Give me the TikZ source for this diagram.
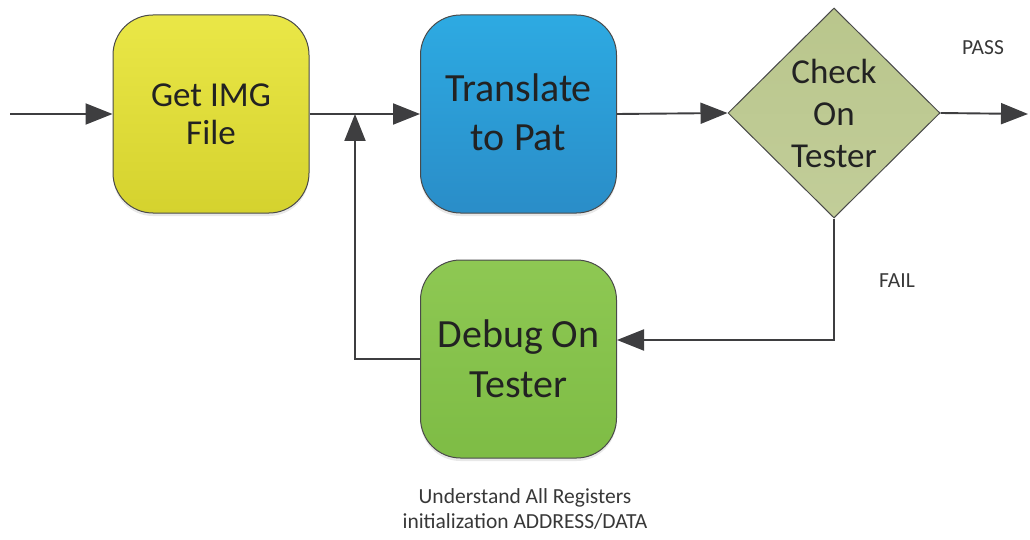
\documentclass[tikz,border=0pt]{standalone}
\usepackage{fontspec}
\setmainfont{Carlito}
\usetikzlibrary{arrows.meta,shapes.geometric,shadows}
\definecolor{linec}{HTML}{3E3E40}
\definecolor{bordc}{HTML}{4A4A4A}
\definecolor{txtc}{HTML}{222222}
\begin{document}
\begin{tikzpicture}[x=1pt,y=-1pt,
  box/.style={draw=bordc, line width=1pt, rounded corners=40pt, minimum width=196pt, minimum height=198pt, inner sep=0pt,
    drop shadow={opacity=0.18, shadow xshift=0pt, shadow yshift=-3pt}},
  dia/.style={draw=bordc, line width=1pt, diamond, minimum width=212pt, minimum height=210pt, inner sep=0pt,
    top color=dtop, bottom color=dbot},
  arr/.style={draw=linec, line width=1.9pt, -{Triangle[length=27pt,width=21pt]}},
  big/.style={text=txtc, align=center},
  small/.style={text=txtc!90!white, align=center, font=\fontsize{21.5}{25}\selectfont}]
\definecolor{ytop}{HTML}{EAE747}\definecolor{ybot}{HTML}{D5D22E}
\definecolor{btop}{HTML}{2DAAE2}\definecolor{bbot}{HTML}{2A8DC8}
\definecolor{gtop}{HTML}{8EC853}\definecolor{gbot}{HTML}{7EBC45}
\definecolor{dtop}{HTML}{B9C68C}\definecolor{dbot}{HTML}{C2CD99}
\useasboundingbox (0,0) rectangle (1030,540);

\node[box, top color=ytop, bottom color=ybot] (get) at (211,114) {};
\node[big, font=\fontsize{35}{38}\selectfont] (gett) at (get.center) {Get IMG\\File};

\node[box, top color=btop, bottom color=bbot] (trans) at (518.5,114) {};
\node[big, font=\fontsize{40}{49}\selectfont] (transt) at ([yshift=1.5pt]trans.center) {Translate\\to Pat};

\node[dia] (check) at (834,113) {};
\node[big, font=\fontsize{35}{42}\selectfont] (checkt) at (check.center) {Check\\On\\Tester};

\node[box, top color=gtop, bottom color=gbot] (debug) at (518.5,359) {};
\node[big, font=\fontsize{40}{50}\selectfont] (debugt) at (debug.center) {Debug On\\Tester};

\coordinate (start) at (10,114);
\coordinate (pass) at (1028,114);
\coordinate (join) at (355,114);

\draw[arr] (start) -- (get.west);
\draw[arr] (get.east) -- (trans.west);
\draw[arr] (trans.east) -- (check.west);
\draw[arr] (check.east) -- (pass);
\draw[arr] (check.south) |- ([yshift=19pt]debug.east);
\draw[arr] (debug.west) -| (join);

\node[small] (passl) at (983,48) {PASS};
\node[small] (faill) at (897,281) {FAIL};
\node[small] (note) at (525,509) {Understand All Registers\\initialization ADDRESS/DATA};
\end{tikzpicture}
\end{document}
